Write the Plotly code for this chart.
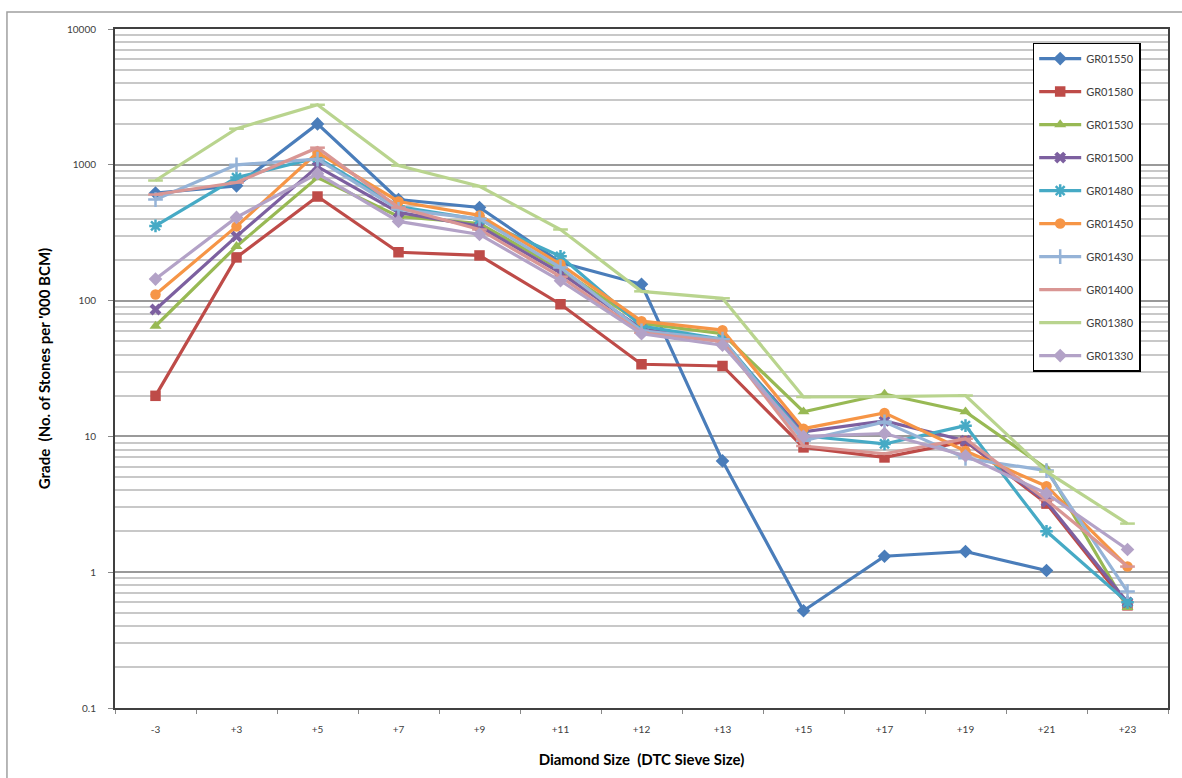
import plotly.graph_objects as go

categories = ["-3", "+3", "+5", "+7", "+9", "+11", "+12", "+13", "+15", "+17", "+19", "+21", "+23"]

GR01550 = [620, 700, 2000, 555, 485, 191, 132, 6.6, 0.52, 1.31, 1.42, 1.03, None]
GR01580 = [19.9, 208, 584, 227, 215, 94, 34, 33, 8.3, 7.0, 9.2, 3.2, 0.57]
GR01530 = [65, 251, 805, 417, 370, 170, 68, 57, 15.2, 20.5, 15.2, 5.8, 0.55]
GR01500 = [86, 297, 970, 446, 352, 160, 62, 50, 10.8, 13, 9.3, 3.3, 0.6]
GR01480 = [355, 805, 1130, 493, 396, 212, 65, 52, 10.1, 8.8, 12, 2.0, 0.6]
GR01450 = [111, 352, 1230, 537, 424, 185, 70.6, 60.6, 11.4, 14.9, 7.8, 4.3, 1.1]
GR01430 = [555, 1000, 1100, 470, 400, 175, 60, 52, 9.3, 12.8, 6.9, 5.6, 0.72]
GR01400 = [604, 740, 1337, 485, 334, 150, 58, 50, 8.5, 7.45, 9.6, 3.4, 1.1]
GR01380 = [766, 1845, 2767, 986, 695, 334, 117, 104, 19.5, 19.6, 20, 5.5, 2.28]
GR01330 = [144, 410, 861, 383, 307, 140, 57, 47, 10, 10.5, 7.2, 3.8, 1.47]

series = [
    ("GR01550", GR01550, "#4A7DBA", "diamond"),
    ("GR01580", GR01580, "#BE4B48", "square"),
    ("GR01530", GR01530, "#98B954", "triangle-up"),
    ("GR01500", GR01500, "#7D60A0", "x"),
    ("GR01480", GR01480, "#46AAC5", "asterisk-open"),
    ("GR01450", GR01450, "#F69546", "circle"),
    ("GR01430", GR01430, "#95B3D7", "cross-thin-open"),
    ("GR01400", GR01400, "#D99694", "line-ew-open"),
    ("GR01380", GR01380, "#B9D48E", "line-ew-open"),
    ("GR01330", GR01330, "#B3A2C7", "diamond"),
]

ytickvals = [0.1, 1, 10, 100, 1000, 10000]
yticktext = ["0.1", "1", "10", "100", "1000", "10000"]

fig = go.Figure()
for name, vals, color, sym in series:
    open_sym = sym.endswith("-open")
    fig.add_trace(go.Scatter(
        x=categories, y=vals, name=name, mode="lines+markers",
        legendgroup=name,
        line=dict(color=color, width=3.2),
        marker=dict(symbol=sym, size=10.5, color=color,
                    line=dict(color=color, width=2.5 if open_sym else 0)),
        connectgaps=False,
    ))

fig.update_layout(
    width=1182, height=778,
    margin=dict(l=115, r=14, t=29, b=64),
    paper_bgcolor="white", plot_bgcolor="white",
    font=dict(family="Lato, Liberation Sans, sans-serif", color="#404040", size=11),
    showlegend=True,
    legend=dict(
        x=0.8715, y=0.98, xanchor="left", yanchor="top",
        bgcolor="white", bordercolor="#000000", borderwidth=1.5,
        font=dict(size=11, color="#404040"),
        tracegroupgap=14, itemwidth=42,
    ),
)

fig.update_xaxes(
    type="category", tickson="boundaries",
    ticks="outside", ticklen=4, tickcolor="#888888",
    showline=True, linecolor="#404040", linewidth=2, mirror=True,
    showgrid=False,
    tickfont=dict(size=10, color="#404040"),
    ticklabelstandoff=11,
    title=dict(text="<b>Diamond Size  (DTC Sieve Size)</b>",
               font=dict(size=15, color="#000000"), standoff=20),
    range=[-0.5, 12.5],
)

fig.update_yaxes(
    type="log", range=[-1, 4],
    tickvals=ytickvals, ticktext=yticktext,
    ticks="outside", ticklen=5, tickcolor="#888888",
    showline=True, linecolor="#404040", linewidth=2, mirror=True,
    showgrid=True, gridcolor="#9A9A9A", gridwidth=1.5,
    minor=dict(showgrid=True, gridcolor="#C8C8C8", gridwidth=1.5, dtick="D1", ticks=""),
    tickfont=dict(size=10, color="#404040"),
    ticklabelstandoff=10,
    title=dict(text="<b>Grade  (No. of Stones per '000 BCM)</b>",
               font=dict(size=15, color="#000000"), standoff=13),
    zeroline=False,
)

# outer chart border (right and bottom edges fall outside the visible page, as in the reference)
fig.add_shape(type="rect", xref="paper", yref="paper",
              x0=-0.1026, x1=1.03, y0=-0.13, y1=1.0249,
              line=dict(color="#A0A0A0", width=1.5), fillcolor="rgba(0,0,0,0)", layer="below")

fig.write_html("out.html",
               config={"displayModeBar": False},
               post_script="document.body.style.margin='0';document.body.style.overflow='hidden';")
